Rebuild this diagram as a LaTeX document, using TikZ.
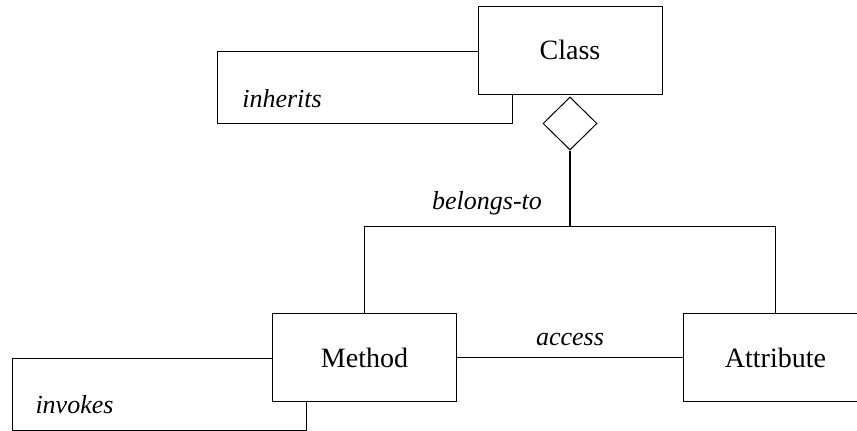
\documentclass[tikz,border=0pt]{standalone}
\usepackage{fontspec}
\setmainfont{Liberation Serif}
\usetikzlibrary{shapes.geometric}
\begin{document}
\begin{tikzpicture}[x=1pt,y=-1pt,
  entity/.style={draw,line width=1pt,rectangle,minimum width=184pt,minimum height=88pt,inner sep=0pt,font=\fontsize{28}{30}\selectfont},
  rel/.style={font=\itshape\fontsize{26}{28}\selectfont,anchor=base,inner sep=0pt},
  link/.style={line width=1pt},
  stem/.style={line width=2pt},
  agg/.style={draw,diamond,line width=1pt,minimum width=54pt,minimum height=53pt,inner sep=0pt}]
\useasboundingbox (0,0) rectangle (857,431);
\clip (0,0) rectangle (857,431);

% entities
\node[entity] (class) at (570,50) {Class};
\node[entity] (method) at (364.5,357.5) {Method};
\node[entity] (attr) at (775.5,357.5) {Attribute};

% aggregation diamond under Class
\node[agg] (dia) at (570,123.5) {};

% self-association of Class
\coordinate (inhA) at (217,51);
\coordinate (inhB) at (512,123);
\draw[link] (class.west |- inhA) -- (inhA) -- (inhA |- inhB) -- (inhB) -- (class.south -| inhB);
\node[rel] (inh) at (282,107) {inherits};

% self-association of Method
\coordinate (invA) at (12,358);
\coordinate (invB) at (306,430);
\draw[link] (method.west |- invA) -- (invA) -- (invA |- invB) -- (invB) -- (method.south -| invB);
\node[rel] (inv) at (74.5,413) {invokes};

% belongs-to tree
\coordinate (fork) at (570,226);
\draw[stem] (dia.south) -- (fork);
\draw[link] (method.north) -- (method.north |- fork) -- (attr.north |- fork) -- (attr.north);
\node[rel] (bel) at (487,209) {belongs-to};

% access
\draw[link] (method.east) -- (attr.west);
\node[rel] (acc) at (570,345) {access};
\end{tikzpicture}
\end{document}
